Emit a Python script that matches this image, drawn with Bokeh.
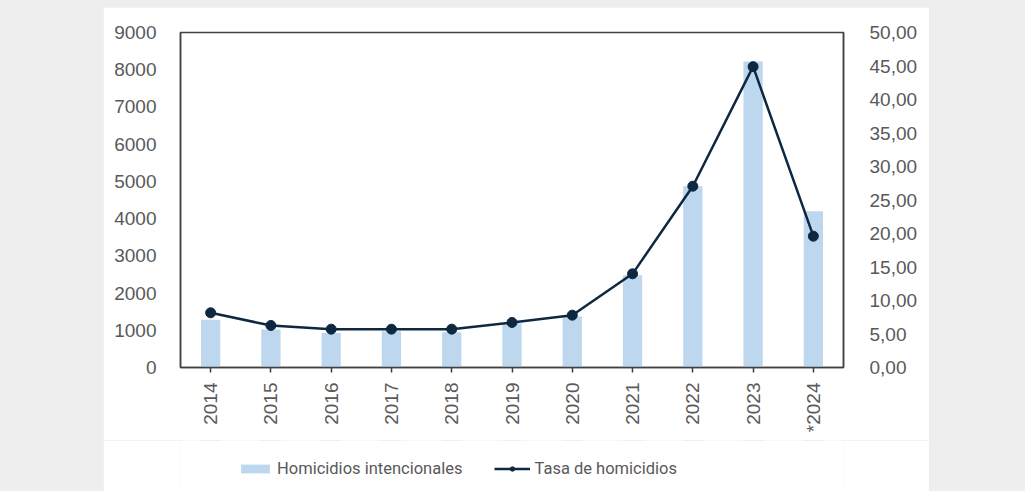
import math
from bokeh.plotting import figure
from bokeh.models import (FactorRange, Range1d, LinearAxis, FixedTicker,
                          CustomJSTickFormatter, Legend, LegendItem, ColumnDataSource, Spacer)
from bokeh.layouts import row, column
from bokeh.embed import file_html
from bokeh.resources import INLINE

years = ["2014", "2015", "2016", "2017", "2018", "2019", "2020", "2021", "2022", "2023", "*2024"]
homicidios = [1280, 1020, 925, 975, 950, 1190, 1370, 2480, 4870, 8220, 4200]
tasa = [8.16, 6.27, 5.72, 5.72, 5.72, 6.72, 7.81, 13.98, 27.06, 44.9, 19.6]
left_ticks = [0, 1000, 2000, 3000, 4000, 5000, 6000, 7000, 8000, 9000]
right_ticks = [0, 5, 10, 15, 20, 25, 30, 35, 40, 45, 50]
series_names = ["Homicidios intencionales", "Tasa de homicidios"]

BAR = "#bdd7ee"
LINE = "#0e2841"
TXT = "#595959"
AX = "#404040"
FONT = "Liberation Sans"

src = ColumnDataSource(dict(x=years, h=homicidios, t=tasa))

p = figure(x_range=FactorRange(*years, range_padding=0), y_range=Range1d(0, 9000),
           width=826, height=433, output_backend="svg", toolbar_location=None,
           min_border_left=77, min_border_right=86, min_border_top=25, min_border_bottom=73)
p.extra_y_ranges = {"tasa": Range1d(0, 50)}
p.background_fill_color = "white"
p.border_fill_color = "white"
p.outline_line_color = AX
p.outline_line_width = 1.5
p.xgrid.visible = False
p.ygrid.visible = False

p.vbar(x="x", top="h", width=0.32, source=src, fill_color=BAR, line_color=None)
p.line(x="x", y="t", source=src, y_range_name="tasa", line_color=LINE, line_width=2.5)
p.scatter(x="x", y="t", source=src, y_range_name="tasa", size=10,
          fill_color=LINE, line_color=LINE)

# left axis
ya = p.yaxis[0]
ya.ticker = FixedTicker(ticks=left_ticks)
ya.major_tick_line_color = None
ya.minor_tick_line_color = None
ya.axis_line_color = AX
ya.axis_line_width = 1.5
ya.major_label_standoff = 18
ya.major_label_text_font = FONT
ya.major_label_text_font_size = "19px"
ya.major_label_text_color = TXT

# right axis
ra = LinearAxis(y_range_name="tasa", ticker=FixedTicker(ticks=right_ticks),
                formatter=CustomJSTickFormatter(code="return tick.toFixed(2).replace('.', ',');"))
ra.major_tick_line_color = None
ra.minor_tick_line_color = None
ra.axis_line_color = AX
ra.axis_line_width = 1.5
ra.major_label_standoff = 20
ra.major_label_text_font = FONT
ra.major_label_text_font_size = "19px"
ra.major_label_text_color = TXT
p.add_layout(ra, "right")

# bottom axis
xa = p.xaxis[0]
xa.axis_line_color = AX
xa.axis_line_width = 1.5
xa.major_tick_line_color = AX
xa.major_tick_line_width = 1.5
xa.major_tick_in = 0
xa.major_tick_out = 5
xa.major_label_standoff = 10
xa.major_label_orientation = math.pi / 2
xa.major_label_text_font = FONT
xa.major_label_text_font_size = "19px"
xa.major_label_text_color = TXT

# legend strip: a figure below the chart holding the same series (its view window
# lies below zero, so only the legend is seen)
lp = figure(width=826, height=51, output_backend="svg", toolbar_location=None,
            x_range=FactorRange(*years), y_range=Range1d(-200, -100),
            x_axis_location=None, y_axis_location=None,
            min_border_left=0, min_border_right=0, min_border_top=0, min_border_bottom=0)
lp.outline_line_color = None
lp.xgrid.visible = False
lp.ygrid.visible = False
lp.background_fill_color = "white"
lp.border_fill_color = "white"
lb = lp.vbar(x="x", top="h", width=0.32, source=src, fill_color=BAR, line_color=None)
ll = lp.line(x="x", y="t", source=src, line_color=LINE, line_width=2.5)
lm = lp.scatter(x="x", y="t", source=src, size=10, fill_color=LINE, line_color=LINE)

legend = Legend(items=[LegendItem(label=series_names[0], renderers=[lb]),
                       LegendItem(label=series_names[1], renderers=[ll, lm])],
                orientation="horizontal", location=(57, 13),
                glyph_width=36, glyph_height=11, label_text_font="Roboto",
                label_text_font_size="16.5px", label_text_color=TXT, label_standoff=4,
                spacing=32, padding=0, margin=0, border_line_color=None,
                background_fill_alpha=0)
lp.add_layout(legend, "center")

layout = column(Spacer(width=10, height=7),
                row(Spacer(width=103, height=484), column(p, lp, spacing=0), spacing=0),
                spacing=0)
html = file_html(layout, INLINE)
html = html.replace("<body>", '<body style="background:#eeeeee; margin:0">')
open("out.html", "w").write(html)
